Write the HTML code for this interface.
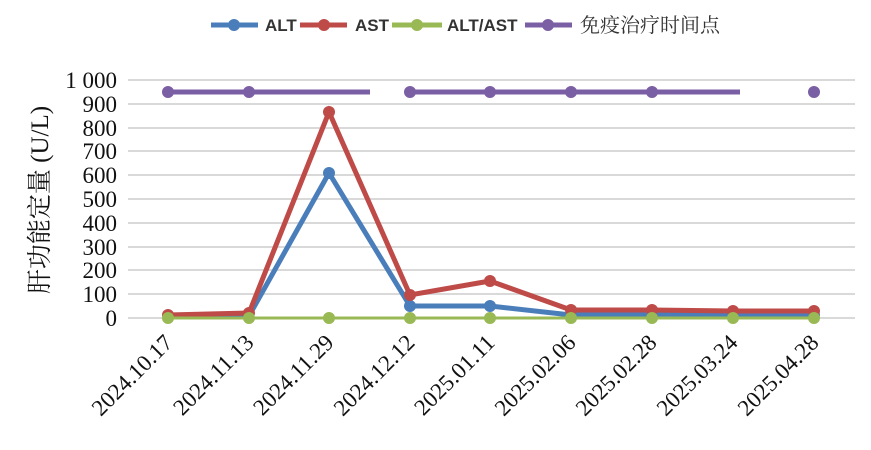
<!DOCTYPE html>
<html><head><meta charset="utf-8"><style>body{margin:0;background:#fff}</style></head><body>
<svg width="871" height="445" xmlns="http://www.w3.org/2000/svg">
<g stroke="#d9d9d9" stroke-width="2">
<line x1="128" x2="855" y1="80" y2="80"/><line x1="128" x2="855" y1="104" y2="104"/><line x1="128" x2="855" y1="128" y2="128"/><line x1="128" x2="855" y1="151" y2="151"/><line x1="128" x2="855" y1="175" y2="175"/><line x1="128" x2="855" y1="199" y2="199"/><line x1="128" x2="855" y1="223" y2="223"/><line x1="128" x2="855" y1="247" y2="247"/><line x1="128" x2="855" y1="270" y2="270"/><line x1="128" x2="855" y1="294" y2="294"/><line x1="128" x2="855" y1="318" y2="318"/>
</g>
<g font-family="Liberation Serif, serif" font-size="23" text-anchor="end" fill="#111">
<text x="117" y="88">1 000</text><text x="117" y="112">900</text><text x="117" y="136">800</text><text x="117" y="159">700</text><text x="117" y="183">600</text><text x="117" y="207">500</text><text x="117" y="231">400</text><text x="117" y="255">300</text><text x="117" y="278">200</text><text x="117" y="302">100</text><text x="117" y="326">0</text>
</g>
<text transform="translate(48,200) rotate(-90)" text-anchor="middle" font-family="Liberation Serif, Noto Serif CJK SC, serif" font-size="25" fill="#111">肝功能定量 (U/L)</text>
<g font-family="Liberation Serif, serif" font-size="23" text-anchor="end" fill="#111">
<text transform="translate(174,344) rotate(-45)">2024.10.17</text>
<text transform="translate(255,344) rotate(-45)">2024.11.13</text>
<text transform="translate(335,344) rotate(-45)">2024.11.29</text>
<text transform="translate(416,344) rotate(-45)">2024.12.12</text>
<text transform="translate(496,344) rotate(-45)">2025.01.11</text>
<text transform="translate(577,344) rotate(-45)">2025.02.06</text>
<text transform="translate(658,344) rotate(-45)">2025.02.28</text>
<text transform="translate(739,344) rotate(-45)">2025.03.24</text>
<text transform="translate(820,344) rotate(-45)">2025.04.28</text>
</g>
<g stroke="#7b5fa5" stroke-width="5" fill="none"><line x1="168" x2="370" y1="92" y2="92"/><line x1="410" x2="740" y1="92" y2="92"/></g>
<g fill="#7b5fa5"><circle cx="168" cy="92" r="6"/><circle cx="249" cy="92" r="6"/><circle cx="410" cy="92" r="6"/><circle cx="490" cy="92" r="6"/><circle cx="571" cy="92" r="6"/><circle cx="652" cy="92" r="6"/><circle cx="814" cy="92" r="6"/></g>
<polyline points="168,316 249,316 329,173 410,306 490,306 571,315 652,315 733,315 814,315" stroke="#4a7ebb" stroke-width="5" fill="none"/>
<g fill="#4a7ebb"><circle cx="329" cy="173" r="6"/><circle cx="410" cy="306" r="6"/><circle cx="490" cy="306" r="6"/><circle cx="571" cy="315" r="6"/><circle cx="652" cy="315" r="6"/><circle cx="733" cy="315" r="6"/><circle cx="814" cy="315" r="6"/></g>
<polyline points="168,315 249,313 329,112 410,295 490,281 571,310 652,310 733,311 814,311" stroke="#be4b48" stroke-width="5" fill="none"/>
<g fill="#be4b48"><circle cx="168" cy="315" r="6"/><circle cx="249" cy="313" r="6"/><circle cx="329" cy="112" r="6"/><circle cx="410" cy="295" r="6"/><circle cx="490" cy="281" r="6"/><circle cx="571" cy="310" r="6"/><circle cx="652" cy="310" r="6"/><circle cx="733" cy="311" r="6"/><circle cx="814" cy="311" r="6"/></g>
<line x1="168" x2="814" y1="318" y2="318" stroke="#98b954" stroke-width="3"/>
<g fill="#98b954"><circle cx="168" cy="318" r="6"/><circle cx="249" cy="318" r="6"/><circle cx="329" cy="318" r="6"/><circle cx="410" cy="318" r="6"/><circle cx="490" cy="318" r="6"/><circle cx="571" cy="318" r="6"/><circle cx="652" cy="318" r="6"/><circle cx="733" cy="318" r="6"/><circle cx="814" cy="318" r="6"/></g>
<g font-family="Liberation Sans, Noto Sans CJK SC, sans-serif" font-size="17" font-weight="bold" fill="#333">
<line x1="211" x2="258" y1="25" y2="25" stroke="#4a7ebb" stroke-width="5"/><circle cx="234" cy="25" r="6" fill="#4a7ebb"/>
<text x="265" y="31">ALT</text>
<line x1="300" x2="347" y1="25" y2="25" stroke="#be4b48" stroke-width="5"/><circle cx="324" cy="25" r="6" fill="#be4b48"/>
<text x="355" y="31">AST</text>
<line x1="392" x2="442" y1="25" y2="25" stroke="#98b954" stroke-width="5"/><circle cx="417" cy="25" r="6" fill="#98b954"/>
<text x="447" y="31">ALT/AST</text>
<line x1="525" x2="572" y1="25" y2="25" stroke="#7b5fa5" stroke-width="5"/><circle cx="548" cy="25" r="6" fill="#7b5fa5"/>
<text x="580" y="32" font-weight="normal" font-size="20" font-family="Noto Serif CJK SC, serif">免疫治疗时间点</text>
</g>
</svg>
</body></html>
